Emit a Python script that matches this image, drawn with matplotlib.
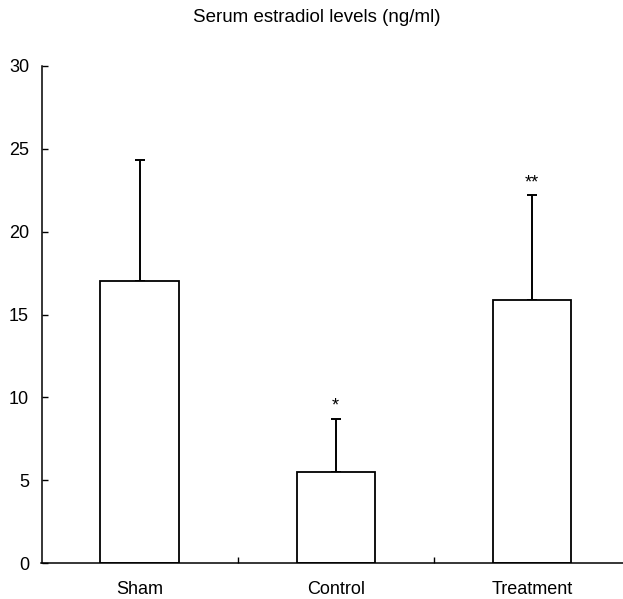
import matplotlib
matplotlib.use("Agg")
import matplotlib.pyplot as plt
import numpy as np

categories = ["Sham", "Control", "Treatment"]
means = [17.0, 5.5, 15.9]
sd_upper = [7.3, 3.2, 6.3]
markers = ["", "*", "**"]
yticks = [0, 5, 10, 15, 20, 25, 30]

plt.rcParams['font.family'] = ['Liberation Sans', 'DejaVu Sans']

fig = plt.figure(figsize=(6.23, 5.99), dpi=100)
ax = fig.add_axes([41.5/623, 1-563/599, (630-41.5)/623, (563-66)/599])

x = np.arange(len(categories))
ax.bar(x, means, width=0.4, color='white', edgecolor='black', linewidth=1.3, zorder=2)
ax.errorbar(x, means, yerr=[np.zeros(len(means)), sd_upper], fmt='none',
            ecolor='black', elinewidth=1.4, capsize=3.5, capthick=1.4, zorder=1)
for xi, m, s, t in zip(x, means, sd_upper, markers):
    if t:
        ax.annotate(t, (xi, m + s), xytext=(0, 3), textcoords='offset points',
                    ha='center', va='bottom', fontsize=13)

ax.set_xlim(-0.5, 2.5)
ax.set_ylim(0, 30)
ax.set_yticks(yticks)
ax.set_yticklabels([str(v) for v in yticks], fontsize=13)
ax.set_xticks(x)
ax.set_xticklabels(categories, fontsize=13)
ax.tick_params(axis='x', length=0, pad=13)
ax.set_xticks([0.5, 1.5], minor=True)
ax.tick_params(axis='x', which='minor', direction='in', length=4, width=1)
ax.tick_params(axis='y', direction='in', length=4, width=1, pad=9)
for sp in ['top', 'right']:
    ax.spines[sp].set_visible(False)
ax.spines['left'].set_linewidth(1.1)
ax.spines['bottom'].set_linewidth(1.1)

fig.text(317/623, 1-17/599, "Serum estradiol levels (ng/ml)", ha='center', va='center', fontsize=13.5)

fig.savefig("out.png", dpi=100)
